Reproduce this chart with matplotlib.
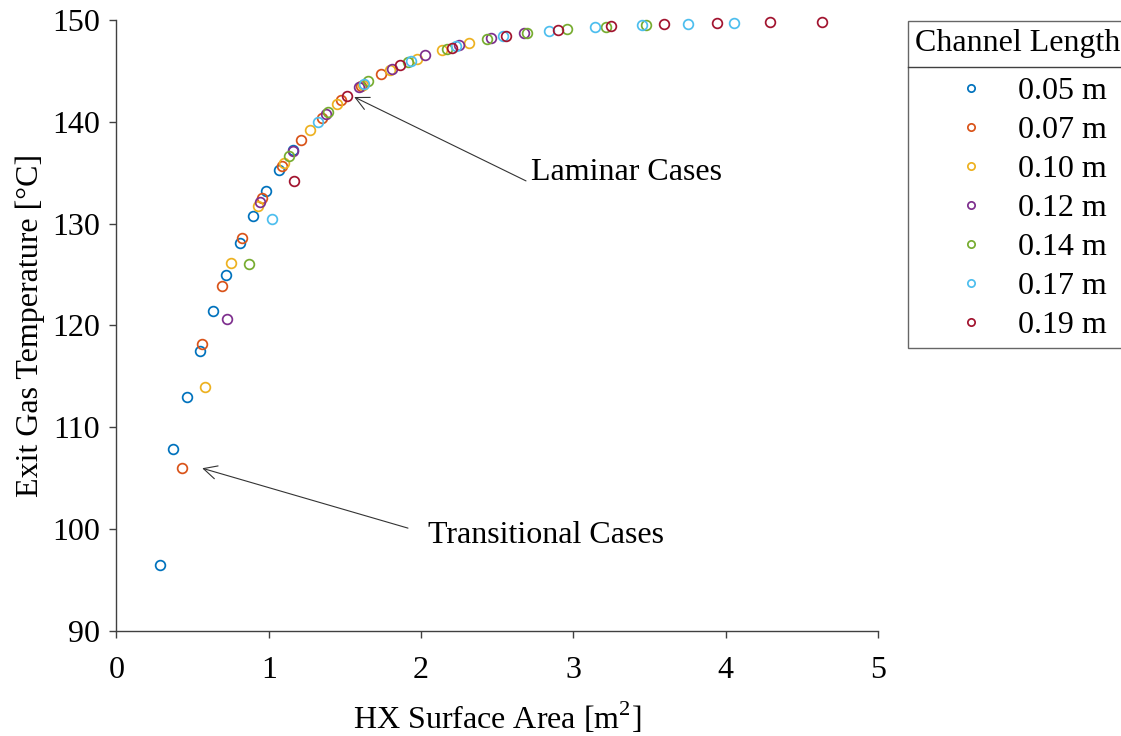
import matplotlib
matplotlib.use("Agg")
from matplotlib import pyplot as plt
from matplotlib.lines import Line2D

plt.rcParams['font.family'] = ['Liberation Serif', 'DejaVu Serif']
plt.rcParams['mathtext.fontset'] = 'custom'
plt.rcParams['mathtext.rm'] = 'Liberation Serif'
plt.rcParams['font.size'] = 23

# HX surface area [m^2] and exit gas temperature [C] per channel length
labels = ['0.05 m', '0.07 m', '0.10 m', '0.12 m', '0.14 m', '0.17 m', '0.19 m']
colors = ['#0072BD', '#D95319', '#EDB120', '#7E2F8E', '#77AC30', '#4DBEEE', '#A2142F']

area_005 = [0.288, 0.373, 0.461, 0.548, 0.636, 0.720, 0.811, 0.896, 0.982, 1.069, 1.157]
temp_005 = [96.5, 107.9, 113.0, 117.5, 121.4, 125.0, 128.1, 130.8, 133.2, 135.3, 137.2]

area_007 = [0.432, 0.564, 0.695, 0.822, 0.955, 1.087, 1.214, 1.347, 1.472, 1.605, 1.737]
temp_007 = [106.0, 118.2, 123.9, 128.6, 132.5, 135.7, 138.2, 140.4, 142.1, 143.5, 144.7]

area_010 = [0.581, 0.754, 0.927, 1.100, 1.273, 1.446, 1.619, 1.796, 1.971, 2.139, 2.315]
temp_010 = [114.0, 126.1, 131.7, 136.0, 139.2, 141.8, 143.6, 145.1, 146.2, 147.1, 147.7]

area_012 = [0.726, 0.942, 1.157, 1.376, 1.592, 1.811, 2.028, 2.246, 2.461, 2.678]
temp_012 = [120.6, 132.1, 137.1, 140.8, 143.4, 145.2, 146.6, 147.5, 148.2, 148.7]

area_014 = [0.872, 1.135, 1.391, 1.653, 1.916, 2.172, 2.435, 2.695, 2.956, 3.212, 3.475]
temp_014 = [126.0, 136.6, 141.0, 144.0, 145.9, 147.2, 148.1, 148.7, 149.1, 149.3, 149.5]

area_017 = [1.019, 1.325, 1.625, 1.932, 2.229, 2.538, 2.840, 3.144, 3.448, 3.754, 4.057]
temp_017 = [130.5, 140.0, 143.7, 146.0, 147.4, 148.4, 148.9, 149.3, 149.5, 149.6, 149.7]

area_019 = [1.163, 1.515, 1.861, 2.205, 2.555, 2.897, 3.247, 3.595, 3.941, 4.291, 4.634]
temp_019 = [134.2, 142.5, 145.6, 147.3, 148.4, 149.0, 149.4, 149.6, 149.7, 149.8, 149.8]

areas = [area_005, area_007, area_010, area_012, area_014, area_017, area_019]
temps = [temp_005, temp_007, temp_010, temp_012, temp_014, temp_017, temp_019]

fig = plt.figure(figsize=(11.21, 7.36), dpi=100)
ax = fig.add_axes([0.1039, 0.1427, 0.6793, 0.8301])

for x, y, c, lab in zip(areas, temps, colors, labels):
    ax.plot(x, y, linestyle='none', marker='o', markersize=7.0, mfc='none',
            mec=c, mew=1.25, label=lab, clip_on=False)

ax.set_xlim(0, 5)
ax.set_ylim(90, 150)
ax.set_xticks(range(0, 6))
ax.set_yticks(range(90, 151, 10))

for side in ['top', 'right']:
    ax.spines[side].set_visible(False)
for side in ['left', 'bottom']:
    ax.spines[side].set_color('#404040')
    ax.spines[side].set_linewidth(1.0)
ax.tick_params(axis='both', direction='out', length=5, width=1.0, color='#404040',
               labelsize=23)
ax.tick_params(axis='x', pad=13)
ax.tick_params(axis='y', pad=7)

ax.set_xlabel('HX Surface Area [m$^{2}$]', fontsize=23, labelpad=11)
ax.set_ylabel('Exit Gas Temperature [°C]', fontsize=23, labelpad=5)

# annotations pointing at the transition between flow regimes
arrow = dict(arrowstyle='->', color='#333333', lw=0.8, shrinkA=0, shrinkB=0,
             mutation_scale=24)
ax.annotate('', xy=(1.561, 142.44), xytext=(2.689, 134.2), arrowprops=arrow)
ax.text(2.722, 135.07, 'Laminar Cases', fontsize=23, ha='left', va='center')
ax.annotate('', xy=(0.563, 105.98), xytext=(1.914, 100.1), arrowprops=arrow)
ax.text(2.045, 99.33, 'Transitional Cases', fontsize=23, ha='left', va='center')

leg = ax.legend(title='Channel Length', loc='upper left',
                bbox_to_anchor=(907.5 / 1121, 1 - 21 / 736),
                bbox_transform=fig.transFigure, fontsize=23, title_fontsize=23,
                frameon=True, fancybox=False, edgecolor='#404040', borderaxespad=0,
                markerscale=0.75, handlelength=2.6, handletextpad=0.15,
                labelspacing=0.30, borderpad=0.25)
leg.get_frame().set_linewidth(1.0)
# wider gap between the title and the entries
leg._legend_box.sep = 13.5

# separator under the legend title
fig.canvas.draw()
bb = leg.get_window_extent()
sep_y = 1 - 66.7 / 736
fig.add_artist(Line2D([bb.x0 / fig.bbox.width, 1.0], [sep_y, sep_y],
                      color='#404040', lw=1.0, transform=fig.transFigure))

fig.savefig('out.png', dpi=100)
